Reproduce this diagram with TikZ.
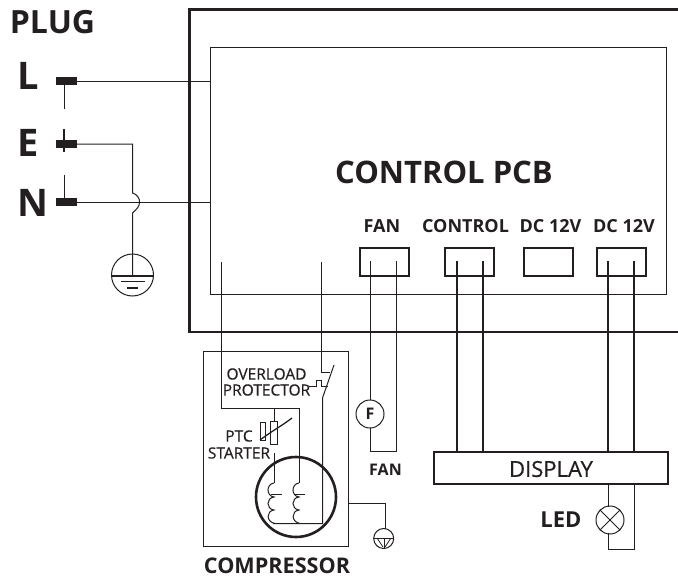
\documentclass[tikz,border=0pt]{standalone}
\usepackage{fontspec}
\setmainfont{Open Sans}
\newfontfamily\medfont[FakeBold=0.5]{Open Sans}
\usetikzlibrary{calc}
\definecolor{ink}{HTML}{231F20}
\tikzset{
  x=1pt,y=-1pt,
  thin wire/.style={draw=ink,line width=1pt},
  thick wire/.style={draw=ink,line width=1.7pt},
  heavy/.style={draw=ink,line width=2.6pt},
  pin/.style={fill=ink,draw=none,minimum width=21pt,minimum height=8pt,inner sep=0pt,outer sep=0pt},
  conn/.style={draw=ink,line width=2pt,minimum width=49pt,minimum height=28pt,inner sep=0pt,outer sep=0pt},
  disc/.style={circle,draw=ink,line width=1pt,inner sep=0pt,outer sep=0pt},
  lab/.style={text=ink,font=\bfseries,inner sep=0pt,outer sep=0pt,align=center},
  big/.style={lab,anchor=west,font=\fontsize{38}{38}\selectfont\bfseries},
  hdr/.style={lab,font=\fontsize{18}{18}\selectfont\bfseries},
  sml/.style={text=ink,inner sep=0pt,outer sep=0pt,font=\fontsize{15.5}{15.5}\selectfont\medfont},
}
\begin{document}
\begin{tikzpicture}
\useasboundingbox (0,0) rectangle (678,581);
% PCB housings
\coordinate (hTR) at (678,9.5);
\coordinate (hBR) at (678,332);
\draw[heavy] (hTR) -- (189.5,9.5) -- (189.5,332) -- (hBR);
\node[draw=ink,line width=1pt,minimum width=456.5pt,minimum height=247pt,inner sep=0pt,outer sep=0pt,anchor=north west] (pcb) at (210,47) {};
% Labels
\node[lab,font=\fontsize{32}{32}\selectfont\bfseries] (plug) at (52.5,22.5) {PLUG};
\node[big] (tL) at (17.5,75.5) {L};
\node[big] (tE) at (17.5,143) {E};
\node[big] (tN) at (17,203) {N};
\node[lab,font=\fontsize{31}{31}\selectfont\bfseries] (tpcb) at (444,172) {CONTROL PCB};
\node[hdr] (tfan) at (382,226) {FAN};
\node[hdr] (tctl) at (465.5,226) {CONTROL};
\node[hdr] (tdc1) at (550.5,226) {DC 12V};
\node[hdr] (tdc2) at (624,226) {DC 12V};
% Pins
\node[pin] (pL) at (66.5,81) {};
\node[pin] (pE) at (66.5,144) {};
\node[pin] (pN) at (66.5,202) {};
\coordinate (lDown) at (64,109);
\coordinate (eUp) at (64,129);
\coordinate (eDown) at (64,152);
\coordinate (nUp) at (64,175);
\draw[thin wire] (lDown) -- (lDown |- pL.south);
\draw[draw=ink,line width=1.2pt] (eUp) -- (eDown);
\draw[thin wire] (nUp) -- (nUp |- pN.north);
\draw[thin wire] (pL.east) -- (pL.east -| pcb.west);
\draw[thin wire] (pN.east) -- (pN.east -| pcb.west);
% Earth
\node[disc,minimum size=42pt] (gnd) at (132.5,275) {};
\draw[thin wire] (pE.east) -- (132.5,144) -- (132.5,193) .. controls (137,194) and (140,199) .. (139.5,202)
  .. controls (140,206) and (136,210) .. (132.5,213) -- (gnd.center);
\draw[draw=ink,line width=1.2pt] ($(gnd.west)+(0,1)$) -- ($(gnd.east)+(0,1)$);
\draw[draw=ink,line width=1.2pt] (121,281.5) -- (145,281.5);
\draw[draw=ink,line width=1.2pt] (127,288) -- (138,288);
% Connectors
\node[conn] (cFan) at (384,262) {};
\node[conn] (cCtl) at (469.5,262) {};
\node[conn] (cDc1) at (548,262) {};
\node[conn] (cDc2) at (621.5,262) {};
\node[draw=ink,line width=2pt,minimum width=234pt,minimum height=32pt,inner sep=0pt,outer sep=0pt,anchor=north west] (disp) at (433.5,452) {};
\node[lab,font=\fontsize{22}{22}\selectfont\medfont] (tdisp) at (551,469) {DISPLAY};
% control wires
\foreach \x/\n in {457/a,483/b,608/c,634/d}{
  \coordinate (w\n) at (\x,261);
  \draw[thick wire] (w\n) -- (w\n |- disp.north);
}
% LED
\node[disc,minimum size=28pt] (led) at (610,520) {};
\draw[draw=ink,line width=1pt] (led.north west) -- (led.south east);
\draw[draw=ink,line width=1pt] (led.north east) -- (led.south west);
\coordinate (ledB) at (634,549);
\draw[thin wire] (608,484) -- (608,507);
\draw[thin wire] (608,533) -- (608,549) -- (ledB) -- (634,484);
\node[lab,font=\fontsize{22}{22}\selectfont\bfseries] (tled) at (561,520) {LED};
% Fan motor
\node[disc,minimum size=28pt,font=\fontsize{16}{16}\selectfont\bfseries,text=ink] (fmot) at (370,414) {F};
\coordinate (fa) at (370,261);
\coordinate (fb) at (396,261);
\draw[thin wire] (fa) -- (fmot.north);
\draw[thin wire] (fmot.south) -- (370,451.5) -- (396,451.5) -- (fb);
\node[lab,font=\fontsize{16}{16}\selectfont\bfseries] (tfan2) at (385.5,470) {FAN};
% Compressor
\node[draw=ink,line width=1pt,minimum width=145.5pt,minimum height=195.5pt,inner sep=0pt,outer sep=0pt,anchor=north west] (comp) at (203,351) {};
\node[lab,font=\fontsize{21.6}{21.6}\selectfont\bfseries] (tcomp) at (277,566) {COMPRESSOR};
\node[sml] (tov) at (266.5,374) {OVERLOAD};
\node[sml] (tpr) at (266.5,390) {PROTECTOR};
\node[sml] (tptc) at (239,436) {PTC};
\node[sml] (tst) at (239,453) {STARTER};
\node[draw=ink,line width=2.6pt,circle,minimum size=80pt,inner sep=0pt,outer sep=0pt] (cmot) at (296,497) {};
% Wires to board
\draw[thin wire] (221,262) -- (221,408) -- (299,408) -- (299,483);
\draw[thin wire] (321,262) -- (321,372) -- (330,372);
% switch
\draw[thin wire] (334,365) -- (322.5,398) -- (322.5,523.5) -- (273,523.5);
% thermal element
\draw[thin wire] (309,386) -- (316,386) -- (316,380) -- (321,380) -- (321,386) -- (327.5,386);
% PTC
\draw[thin wire] (274,408) -- (274,421.5);
\node[draw=ink,line width=1pt,minimum width=7.5pt,minimum height=23pt,inner sep=0pt,outer sep=0pt] (ptc) at (274,433) {};
\node[draw=ink,line width=1pt,minimum width=5pt,minimum height=18pt,inner sep=0pt,outer sep=0pt] (ptc2) at (262.5,431) {};
\draw[thin wire,line width=1.3pt] (ptc2.south west) .. controls (272,431) and (283,425) .. (292,418);
\draw[thin wire] (274,453) -- (274,483);
% coils
\foreach \x in {274,299}{
  \draw[thin wire] (\x,483) .. controls (\x-8,484) and (\x-8,496) .. (\x,497)
     .. controls (\x-8,498) and (\x-8,509) .. (\x,510)
     .. controls (\x-8,511) and (\x-8,522) .. (\x+1,523.5);
}
\draw[thin wire] (271,494) -- (282,494);
\draw[thin wire] (294,494) -- (305,494);
% small earth
\node[disc,minimum size=20pt] (gnd2) at (383.7,538.5) {};
\draw[thin wire] (348.5,503) -- (385,503) -- (385,528.5);
\draw[thin wire] (gnd2.west) -- (gnd2.east);
\draw[draw=ink,line width=.8pt] (384,538) -- (384,548);
\draw[draw=ink,line width=.8pt] (377,538) -- (383,547);
\draw[draw=ink,line width=.8pt] (391,538) -- (385,547);
\end{tikzpicture}
\end{document}
